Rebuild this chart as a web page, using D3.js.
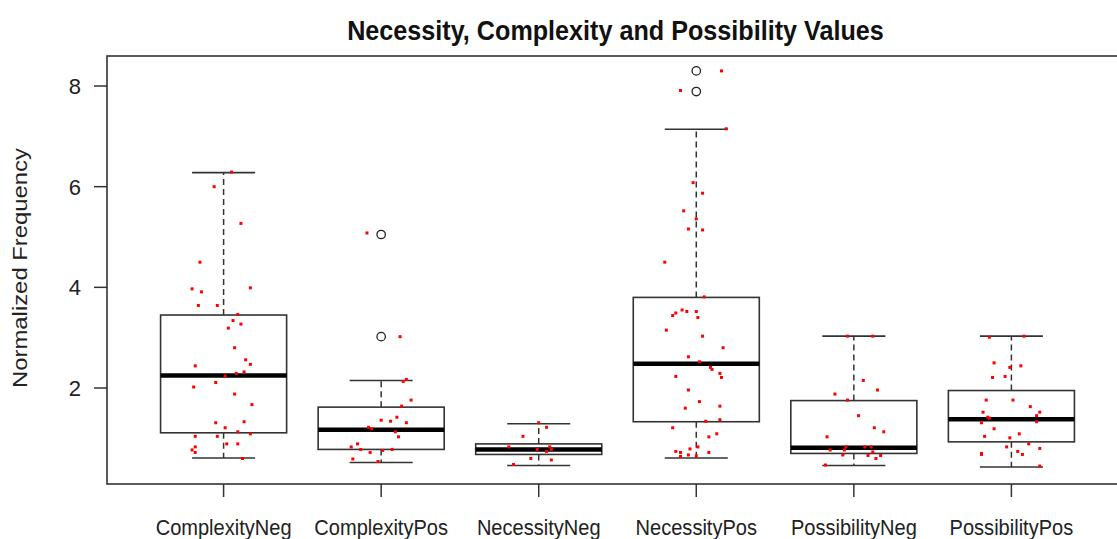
<!DOCTYPE html>
<html>
<head>
<meta charset="utf-8">
<script src="https://cdn.jsdelivr.net/npm/d3@7"></script>
<style>
  html, body { margin: 0; padding: 0; background: #fff; }
  svg { display: block; font-family: "Liberation Sans", Arial, sans-serif; }
</style>
</head>
<body>
<svg id="chart" width="1117" height="539"></svg>
<script>
// Groups on the x axis
const categories = ["ComplexityNeg", "ComplexityPos", "NecessityNeg", "NecessityPos", "PossibilityNeg", "PossibilityPos"];

// Box statistics per group: lower whisker, Q1, median, Q3, upper whisker
const lowerWhisker = [0.61, 0.52, 0.46, 0.61, 0.46, 0.43];
const quartile1    = [1.11, 0.78, 0.68, 1.33, 0.70, 0.93];
const medians      = [2.25, 1.17, 0.78, 2.48, 0.815, 1.38];
const quartile3    = [3.45, 1.62, 0.89, 3.80, 1.75, 1.95];
const upperWhisker = [6.28, 2.15, 1.29, 7.14, 3.03, 3.03];

// Outliers beyond the whiskers (group index, value)
const outlierGroup = [1, 1, 3, 3];
const outlierValue = [5.05, 3.02, 8.30, 7.89];

// Observations per group, with the jitter used for the strip overlay
const complexityNegValues = [6.29, 6.00, 5.27, 4.50, 3.97, 3.91, 3.99, 3.64, 3.64, 3.46, 3.34, 3.27, 3.19, 2.80, 2.56, 2.47, 2.44, 2.32, 2.29, 2.24, 2.11, 2.02, 1.88, 1.67, 1.31, 1.33, 1.21, 1.13, 1.09, 1.04, 1.04, 0.89, 0.89, 0.83, 0.77, 0.72, 0.60];
const complexityNegJitter = [0.05, -0.06, 0.11, -0.15, -0.20, -0.14, 0.17, -0.16, -0.04, 0.09, 0.06, 0.11, 0.03, 0.07, 0.14, 0.17, -0.18, 0.13, 0.08, 0.01, -0.05, -0.19, 0.07, 0.18, -0.05, 0.13, 0.01, 0.09, 0.17, -0.18, -0.04, 0.02, 0.09, -0.18, -0.20, -0.18, 0.12];

const complexityPosValues = [5.08, 3.02, 2.17, 2.13, 1.76, 1.64, 1.42, 1.36, 1.34, 1.31, 1.22, 1.19, 1.13, 1.03, 0.89, 0.83, 0.78, 0.72, 0.76, 0.78, 0.59, 0.54];
const complexityPosJitter = [-0.09, 0.12, 0.16, 0.14, 0.19, 0.13, 0.10, 0.00, 0.06, 0.16, -0.08, -0.06, 0.09, 0.11, -0.15, -0.19, -0.13, -0.07, 0.01, 0.07, -0.18, -0.02];

const necessityNegValues = [1.31, 1.22, 1.04, 0.83, 0.78, 0.83, 0.78, 0.74, 0.60, 0.57, 0.48];
const necessityNegJitter = [0.00, 0.05, -0.10, -0.19, -0.01, 0.07, 0.08, 0.05, -0.05, 0.08, -0.16];

const necessityPosValues = [8.30, 7.91, 7.15, 6.08, 5.87, 5.52, 5.36, 5.16, 5.14, 4.50, 3.81, 3.55, 3.49, 3.44, 3.52, 3.52, 3.40, 3.15, 3.03, 2.80, 2.62, 2.52, 2.41, 2.37, 2.23, 2.29, 2.21, 1.96, 1.73, 1.60, 1.64, 1.34, 1.37, 1.21, 1.09, 1.03, 0.83, 0.79, 0.74, 0.72, 0.72, 0.64, 0.67, 0.65];
const necessityPosJitter = [0.16, -0.10, 0.19, -0.02, 0.04, -0.08, 0.00, -0.05, 0.04, -0.20, 0.05, -0.09, -0.13, -0.15, -0.06, 0.00, 0.01, -0.19, 0.04, 0.17, -0.05, 0.02, 0.09, 0.10, -0.13, 0.15, 0.16, -0.05, 0.02, -0.07, 0.15, 0.06, 0.15, -0.15, 0.13, 0.08, 0.01, -0.04, -0.13, -0.10, 0.08, -0.10, -0.05, 0.00];

const possibilityNegValues = [3.03, 3.03, 2.15, 1.96, 1.88, 1.76, 1.45, 1.21, 1.13, 1.03, 0.83, 0.83, 0.83, 0.77, 0.77, 0.73, 0.67, 0.66, 0.66, 0.60, 0.47];
const possibilityNegJitter = [-0.04, 0.12, 0.06, 0.15, -0.12, -0.04, 0.03, 0.13, 0.19, -0.17, -0.05, 0.07, 0.11, -0.15, -0.06, 0.12, -0.07, 0.09, 0.17, 0.14, -0.18];

const possibilityPosValues = [3.01, 3.03, 2.50, 2.41, 2.44, 2.21, 2.23, 1.76, 1.76, 1.63, 1.52, 1.52, 1.42, 1.45, 1.40, 1.33, 1.31, 1.19, 1.09, 1.04, 1.01, 0.89, 0.83, 0.80, 0.70, 0.68, 0.74, 0.68, 0.45];
const possibilityPosJitter = [-0.14, 0.08, -0.11, -0.01, 0.06, -0.12, -0.04, -0.16, 0.01, 0.12, -0.18, 0.18, -0.15, 0.16, -0.14, 0.16, -0.19, -0.11, 0.05, -0.17, -0.01, 0.11, -0.03, 0.18, -0.19, -0.19, 0.04, 0.07, 0.18];

const yTicks = [2, 4, 6, 8];
const titleText = "Necessity, Complexity and Possibility Values";
const yLabelText = "Normalized Frequency";

const groupValues = [complexityNegValues, complexityPosValues, necessityNegValues, necessityPosValues, possibilityNegValues, possibilityPosValues];
const groupJitter = [complexityNegJitter, complexityPosJitter, necessityNegJitter, necessityPosJitter, possibilityNegJitter, possibilityPosJitter];

// ---- layout ----
const svg = d3.select("#chart");
const plot = { left: 107, top: 56, bottom: 484, right: 1128 };

// Group positions 1..n, with a padded domain like base graphics
const x = d3.scaleLinear().domain([0.26, 6.74]).range([plot.left, plot.right]);
const y = d3.scaleLinear().domain([0.093, 8.596]).range([plot.bottom, plot.top]);

const boxHalf = 0.4;    // box half width (group units)
const capHalf = 0.2;    // whisker cap half width
const ink = "#333";

const boxes = categories.map((c, i) => ({
  name: c, pos: i + 1,
  lo: lowerWhisker[i], q1: quartile1[i], med: medians[i], q3: quartile3[i], hi: upperWhisker[i]
}));

const g = svg.append("g");

// Whiskers (dashed)
g.selectAll(".whisker-up").data(boxes).join("line")
  .attr("x1", d => x(d.pos)).attr("x2", d => x(d.pos))
  .attr("y1", d => y(d.q3)).attr("y2", d => y(d.hi))
  .attr("stroke", ink).attr("stroke-width", 1.5).attr("stroke-dasharray", "6,4");
g.selectAll(".whisker-down").data(boxes).join("line")
  .attr("x1", d => x(d.pos)).attr("x2", d => x(d.pos))
  .attr("y1", d => y(d.q1)).attr("y2", d => y(d.lo))
  .attr("stroke", ink).attr("stroke-width", 1.5).attr("stroke-dasharray", "6,4");

// Caps
["hi", "lo"].forEach(k => {
  g.selectAll(".cap-" + k).data(boxes).join("line")
    .attr("x1", d => x(d.pos - capHalf)).attr("x2", d => x(d.pos + capHalf))
    .attr("y1", d => y(d[k])).attr("y2", d => y(d[k]))
    .attr("stroke", ink).attr("stroke-width", 1.6);
});

// Boxes
g.selectAll(".box").data(boxes).join("rect")
  .attr("x", d => x(d.pos - boxHalf))
  .attr("width", d => x(d.pos + boxHalf) - x(d.pos - boxHalf))
  .attr("y", d => y(d.q3))
  .attr("height", d => y(d.q1) - y(d.q3))
  .attr("fill", "#fff").attr("stroke", ink).attr("stroke-width", 1.6);

// Medians
g.selectAll(".median").data(boxes).join("line")
  .attr("x1", d => x(d.pos - boxHalf)).attr("x2", d => x(d.pos + boxHalf))
  .attr("y1", d => y(d.med)).attr("y2", d => y(d.med))
  .attr("stroke", "#000").attr("stroke-width", 4.5);

// Outliers
g.selectAll(".outlier").data(outlierValue.map((v, i) => ({ pos: outlierGroup[i] + 1, v })))
  .join("circle")
  .attr("cx", d => x(d.pos)).attr("cy", d => y(d.v)).attr("r", 4.2)
  .attr("fill", "none").attr("stroke", "#222").attr("stroke-width", 1.3);

// Jittered observations
const pts = [];
groupValues.forEach((vals, i) => vals.forEach((v, j) => pts.push({ pos: i + 1 + groupJitter[i][j], v })));
g.selectAll(".pt").data(pts).join("rect")
  .attr("x", d => x(d.pos) - 1.5).attr("y", d => y(d.v) - 1.5)
  .attr("width", 3).attr("height", 3)
  .attr("fill", "#ff0000");

// Plot frame
svg.append("rect")
  .attr("x", plot.left).attr("y", plot.top)
  .attr("width", plot.right - plot.left).attr("height", plot.bottom - plot.top)
  .attr("fill", "none").attr("stroke", ink).attr("stroke-width", 1.6);

// Y axis ticks and labels
const yAxis = svg.append("g");
yAxis.selectAll("line").data(yTicks).join("line")
  .attr("x1", plot.left - 13).attr("x2", plot.left)
  .attr("y1", d => y(d)).attr("y2", d => y(d))
  .attr("stroke", ink).attr("stroke-width", 1.5);
yAxis.selectAll("text").data(yTicks).join("text")
  .attr("x", 81).attr("y", d => y(d) + 8)
  .attr("text-anchor", "end")
  .attr("font-size", 22).attr("fill", "#222")
  .text(d => d);

// X axis ticks and labels
const xAxis = svg.append("g");
xAxis.selectAll("line").data(boxes).join("line")
  .attr("x1", d => x(d.pos)).attr("x2", d => x(d.pos))
  .attr("y1", plot.bottom).attr("y2", plot.bottom + 13)
  .attr("stroke", ink).attr("stroke-width", 1.5);

// Horizontally condensed text helper
function condensed(sel, cx, cy, targetWidth) {
  const w = sel.node().getComputedTextLength();
  const s = targetWidth / w;
  sel.attr("transform", `translate(${cx},${cy}) scale(${s},1)`);
  return s;
}

const xLabels = xAxis.selectAll("text").data(boxes).join("text")
  .attr("text-anchor", "middle").attr("font-size", 23).attr("fill", "#222")
  .text(d => d.name);
// condense all x labels by the same factor
const refW = xLabels.nodes()[0].getComputedTextLength();
const xs = 136 / refW;
xLabels.attr("transform", d => `translate(${x(d.pos)},535) scale(${xs},1)`);

// Title
const title = svg.append("text")
  .attr("text-anchor", "middle").attr("font-size", 28).attr("font-weight", "bold")
  .attr("fill", "#111").text(titleText);
condensed(title, 615.5, 39.5, 537);

// Y axis label (rotated; glyphs condensed across the reading direction)
const yl = svg.append("text")
  .attr("text-anchor", "middle").attr("font-size", 24).attr("fill", "#222")
  .text(yLabelText);
const ylw = yl.node().getComputedTextLength();
yl.attr("transform", `translate(27,268) rotate(-90) scale(${240 / ylw},0.82)`);
</script>
</body>
</html>
